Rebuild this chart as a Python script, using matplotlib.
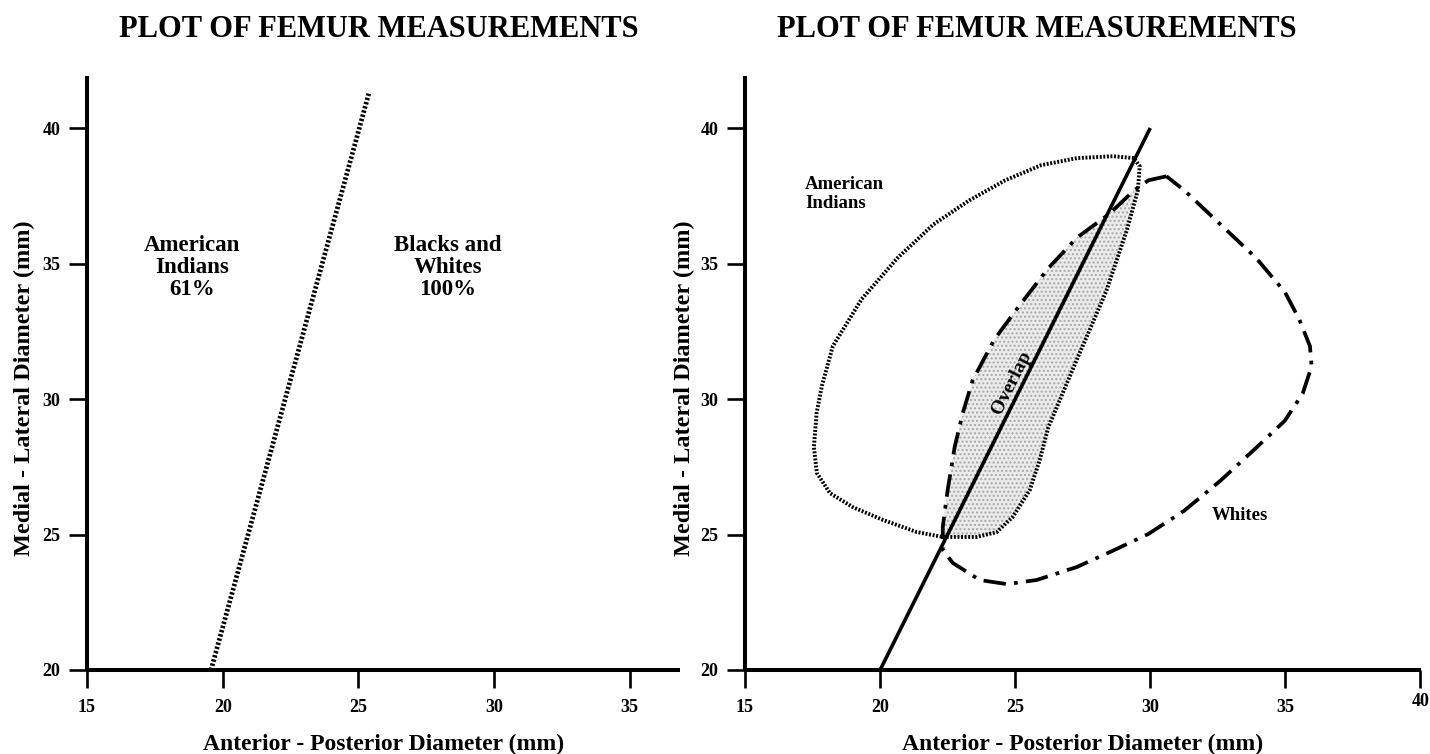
import matplotlib
matplotlib.use("Agg")
import matplotlib.pyplot as plt
from matplotlib.patches import Polygon
from matplotlib.transforms import ScaledTranslation

plt.rcParams['font.family'] = ['Liberation Serif', 'DejaVu Serif']
plt.rcParams['font.weight'] = 'bold'

# ---------------- data ----------------
left_xticks = [15, 20, 25, 30, 35]
right_xticks = [15, 20, 25, 30, 35, 40]
yticks = [20, 25, 30, 35, 40]

# left panel: discriminant line (dotted)
left_line_x = [19.57, 25.39]
left_line_y = [20.0, 41.3]

# right panel: discriminant line (solid)
right_line_x = [20.0, 30.0]
right_line_y = [20.0, 40.0]

# American Indians outline (dotted)
indians_x = [29.39, 28.62, 27.29, 25.96, 24.63, 23.30, 21.97, 20.65, 19.32, 18.25,
             17.85, 17.65, 17.55, 17.66, 18.14, 18.99, 20.10, 21.36, 22.32, 23.58,
             24.32, 24.91, 25.54, 25.91, 26.22, 27.29, 28.36, 29.13, 29.54, 29.61]
indians_y = [38.89, 38.96, 38.89, 38.63, 38.07, 37.33, 36.44, 35.21, 33.69, 31.95,
             30.50, 29.48, 28.23, 27.27, 26.53, 26.01, 25.54, 25.09, 24.91, 24.91,
             25.09, 25.65, 26.64, 27.75, 28.94, 31.47, 33.95, 36.22, 37.70, 38.59]

# Whites outline (dash-dot)
whites_x = [30.60, 29.93, 29.40, 28.47, 27.28, 26.22, 25.16, 24.23, 23.43, 23.06,
            22.76, 22.50, 22.32, 22.32, 22.69, 23.69, 24.69, 25.79, 27.28, 28.61,
            29.93, 31.26, 32.59, 33.92, 34.98, 35.64, 35.97, 35.91, 35.51, 34.98,
            33.92, 32.59, 31.26]
whites_y = [38.22, 38.07, 37.70, 36.82, 35.95, 34.82, 33.45, 32.20, 30.70, 29.48,
            28.23, 26.64, 25.28, 24.43, 23.95, 23.32, 23.17, 23.32, 23.80, 24.40,
            25.02, 25.88, 26.98, 28.20, 29.20, 30.20, 31.20, 31.95, 32.95, 33.95,
            35.20, 36.45, 37.70]

title = "PLOT OF FEMUR MEASUREMENTS"
xlabel = "Anterior - Posterior Diameter (mm)"
ylabel = "Medial - Lateral Diameter (mm)"

# ---------------- figure ----------------
W, H = 1430, 754
fig = plt.figure(figsize=(W / 100, H / 100), dpi=100)

def px_axes(l, r, b, t):
    return [l / W, (H - b) / H, (r - l) / W, (b - t) / H]

ax1 = fig.add_axes(px_axes(87, 680, 670, 76))
ax2 = fig.add_axes(px_axes(745, 1421, 670, 76))

def style(ax, xticks, xlim, ylab_x):
    ax.set_xlim(*xlim)
    ax.set_ylim(20, 41.92)
    for s in ['top', 'right']:
        ax.spines[s].set_visible(False)
    for s in ['left', 'bottom']:
        ax.spines[s].set_linewidth(2.9)
        ax.spines[s].set_capstyle('butt')
    ax.set_xticks(xticks)
    ax.set_yticks(yticks)
    ax.tick_params(direction='out', length=13, width=1.9, labelsize=13, pad=6)
    ax.tick_params(axis='x', pad=8)
    for lab in ax.get_xticklabels() + ax.get_yticklabels():
        lab.set_fontweight('bold')
    ax.set_xlabel(xlabel, fontsize=17, fontweight='bold')
    ax.xaxis.set_label_coords(0.5, -0.108)
    ax.set_ylabel(ylabel, fontsize=17.5, fontweight='bold')
    ax.yaxis.set_label_coords(ylab_x, 0.475)

style(ax1, left_xticks, (15, 36.85), -0.088)
style(ax2, right_xticks, (15, 40.02), -0.074)

# raise the "40" label slightly like the original
t40 = ax2.xaxis.get_major_ticks()[-1].label1
t40.set_transform(t40.get_transform() + ScaledTranslation(0, 6 / 100, fig.dpi_scale_trans))

# titles
fig.text(378.5 / W, 1 - 37 / H, title, ha='center', va='baseline', fontsize=22, fontweight='bold')
fig.text(1037 / W, 1 - 37 / H, title, ha='center', va='baseline', fontsize=22, fontweight='bold')

# ---------- left panel ----------
ax1.plot(left_line_x, left_line_y, color='black', lw=3.4, linestyle=(0, (0.5, 0.42)),
         solid_capstyle='butt', dash_capstyle='butt', clip_on=False)
ax1.text(18.87, 34.85, "American\nIndians\n61%", ha='center', va='center',
         fontsize=16.5, fontweight='bold', linespacing=1.05)
ax1.text(28.3, 34.85, "Blacks and\nWhites\n100%", ha='center', va='center',
         fontsize=16.5, fontweight='bold', linespacing=1.05)

# ---------- right panel ----------
ind_xy = list(zip(indians_x, indians_y))
wh_xy = list(zip(whites_x, whites_y))

ind_clip = Polygon(ind_xy, closed=True, transform=ax2.transData, facecolor='none', edgecolor='none')
ax2.add_patch(ind_clip)
overlap = Polygon(wh_xy, closed=True, facecolor='#ebebeb', edgecolor='#a8a8a8',
                  hatch='....', linewidth=0)
ax2.add_patch(overlap)
overlap.set_clip_path(ind_clip)

ax2.add_patch(Polygon(ind_xy, closed=True, fill=False, edgecolor='black', lw=2.8,
                      linestyle=(0, (0.5, 0.42)), joinstyle='round'))
ax2.add_patch(Polygon(wh_xy, closed=True, fill=False, edgecolor='black', lw=2.7,
                      linestyle=(0, (6, 2.2, 1.0, 2.2)), joinstyle='round'))
ax2.plot(right_line_x, right_line_y, color='black', lw=2.6, solid_capstyle='butt')

ax2.text(17.22, 37.56, "American\nIndians", ha='left', va='center',
         fontsize=13.5, fontweight='bold', linespacing=1.1)
ax2.text(33.3, 25.7, "Whites", ha='center', va='center', fontsize=13.5, fontweight='bold')
ax2.text(24.87, 30.59, "Overlap", ha='center', va='center', rotation=63.4,
         rotation_mode='anchor', fontsize=14, fontweight='bold')

fig.savefig("out.png", dpi=100)
